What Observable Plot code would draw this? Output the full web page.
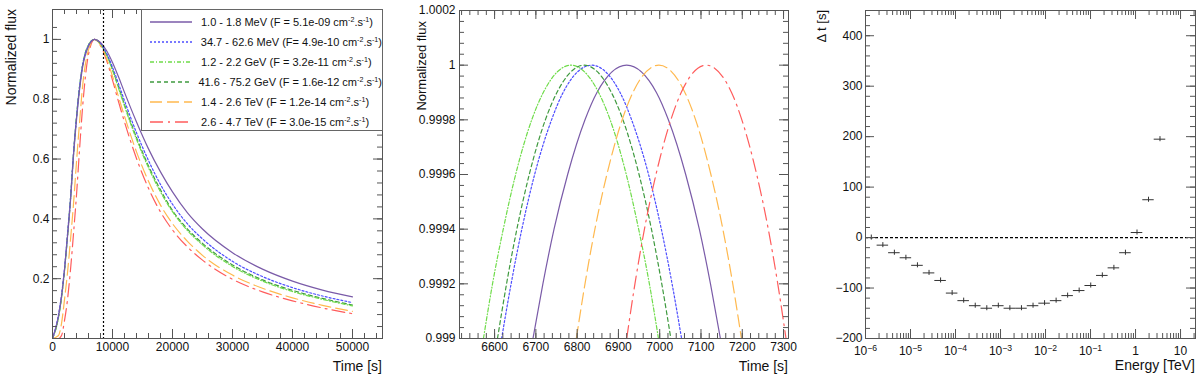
<!DOCTYPE html>
<html><head><meta charset="utf-8">
<script src="https://cdn.jsdelivr.net/npm/d3@7"></script>
<script src="https://cdn.jsdelivr.net/npm/@observablehq/plot@0.6"></script>
<style>
body{margin:0;background:#fff;}
#wrap{position:relative;width:1200px;height:379px;font-family:"Liberation Sans",Arial,Helvetica,sans-serif;color:#111;overflow:hidden;}
.panel{position:absolute;top:0;}
#legend{position:absolute;left:141px;top:9px;width:242px;height:122px;border:1px solid #666;background:#fff;box-sizing:border-box;font-size:11px;padding-top:2px;}
#legend .row{display:flex;align-items:center;height:20px;white-space:nowrap;}
#legend svg{margin-left:8px;margin-right:9px;}
#legend sup{font-size:0.65em;vertical-align:0.5em;line-height:0;}
</style></head><body><div id="wrap"></div>
<script>
// ---------- Panel 1: light curves ----------
const bandLabels = ["1.0 - 1.8 MeV","34.7 - 62.6 MeV","1.2 - 2.2 GeV","41.6 - 75.2 GeV","1.4 - 2.6 TeV","2.6 - 4.7 TeV"];
const fluxLabels = ["F = 5.1e-09","F= 4.9e-10","F = 3.2e-11","F = 1.6e-12","F = 1.2e-14","F = 3.0e-15"];

const t1 = [0,1000,1500,2000,2500,3000,3500,4000,4500,5000,6000,7000,8000,9000,10000,11000,12000,14000,16000,18000,20000,22500,25000,30000,35000,40000,45000,50000];
const fPurple = [0,0.075,0.14,0.23,0.34,0.46,0.61,0.73,0.83,0.905,0.977,1.0,0.990,0.963,0.923,0.875,0.823,0.724,0.634,0.557,0.49,0.42,0.366,0.287,0.232,0.192,0.162,0.139];
const fBlue   = [0,0.08,0.145,0.235,0.35,0.47,0.62,0.74,0.84,0.912,0.98,1.0,0.987,0.954,0.907,0.852,0.795,0.688,0.595,0.515,0.449,0.383,0.333,0.258,0.207,0.170,0.142,0.120];
const fLGreen = [0,0.07,0.135,0.225,0.34,0.465,0.615,0.74,0.84,0.912,0.982,1.0,0.985,0.949,0.897,0.837,0.777,0.666,0.571,0.490,0.424,0.361,0.313,0.241,0.192,0.157,0.131,0.109];
const fDGreen = [0,0.072,0.138,0.228,0.343,0.467,0.617,0.741,0.841,0.912,0.981,1.0,0.986,0.950,0.900,0.841,0.782,0.672,0.577,0.497,0.428,0.366,0.318,0.246,0.196,0.161,0.134,0.112];
const fOrange = [0,0.01,0.05,0.13,0.22,0.33,0.45,0.59,0.72,0.84,0.965,1.0,0.981,0.937,0.877,0.808,0.743,0.624,0.526,0.446,0.384,0.325,0.278,0.212,0.168,0.136,0.111,0.091];
const fRed    = [0,0,0.01,0.06,0.13,0.23,0.35,0.48,0.63,0.77,0.95,1.0,0.979,0.931,0.864,0.792,0.724,0.602,0.502,0.423,0.363,0.306,0.262,0.198,0.156,0.126,0.102,0.083];
const tMarker = 8500;

const x1Labels = [0,10000,20000,30000,40000,50000];
const y1Labels = [0.2,0.4,0.6,0.8,1];

// ---------- Panel 2: zoom on the peaks ----------
const f2 = [0.999,0.9992,0.9994,0.9996,0.9998,0.9999,1,0.9999,0.9998,0.9996,0.9994,0.9992,0.999];
const t2Purple = [6693,6717,6744,6777,6819,6848,6920,6992,7021,7063,7096,7123,7147];
const t2Blue   = [6617,6640,6666,6697,6738,6766,6835,6904,6932,6973,7004,7030,7053];
const t2LGreen = [6573,6595,6621,6651,6690,6718,6785,6852,6880,6919,6949,6975,6997];
const t2DGreen = [6607,6629,6654,6684,6723,6751,6817,6883,6911,6950,6980,7005,7027];
const t2Orange = [6798,6819,6843,6872,6909,6935,6998,7061,7087,7124,7153,7177,7198];
const t2Red    = [6920,6940,6963,6991,7027,7052,7113,7174,7199,7235,7263,7286,7306];

const x2Labels = [6600,6700,6800,6900,7000,7100,7200,7300];
const y2Labels = [0.999,0.9992,0.9994,0.9996,0.9998,1,1.0002];

// ---------- Panel 3: time lag vs energy ----------
const eEdges = [1.0e-6,1.81e-6,3.26e-6,5.89e-6,1.06e-5,1.92e-5,3.47e-5,6.26e-5,1.13e-4,2.04e-4,3.69e-4,6.66e-4,1.20e-3,2.17e-3,3.93e-3,7.09e-3,1.28e-2,2.31e-2,4.16e-2,7.52e-2,1.36e-1,2.46e-1,4.44e-1,8.02e-1,1.45,2.6,4.7];
const dt = [0,-15,-30,-40,-55,-70,-85,-110,-125,-135,-140,-135,-140,-140,-135,-130,-125,-115,-105,-95,-75,-60,-30,10,75,195];
const dtErr = [5,5,5,5,5,5,5,5,5,5,5,5,5,5,5,5,5,5,5,5,5,5,5,5,5,5];

const x3Labels = [1e-6,1e-5,1e-4,1e-3,1e-2,1e-1,1,10];
const y3Labels = [-200,-100,0,100,200,300,400];

// ---------- styles ----------
const styles = [
  {color:"#7a5ba8", dash:null},
  {color:"#4d4dff", dash:"2,2"},
  {color:"#6fdc4a", dash:"4,2,1,2"},
  {color:"#3f9a3f", dash:"4,3"},
  {color:"#ffb94f", dash:"12,5"},
  {color:"#ff5c5c", dash:"13,5,2,5"}
];
const W = 400, H = 379;
const frameColor = "#555";
const baseStyle = {fontFamily:'"Liberation Sans", Arial, Helvetica, sans-serif', fontSize:"12px", color:"#111", background:"transparent", overflow:"visible"};

function boxTicks(xMaj, xMin, yMaj, yMin, pw, ph) {
  const c = frameColor;
  return [
    Plot.tickX(xMin, {x: d => d, insetTop: ph - 5, stroke: c}),
    Plot.tickX(xMin, {x: d => d, insetBottom: ph - 5, stroke: c}),
    Plot.tickX(xMaj, {x: d => d, insetTop: ph - 9, stroke: c}),
    Plot.tickX(xMaj, {x: d => d, insetBottom: ph - 9, stroke: c}),
    Plot.tickY(yMin, {y: d => d, insetRight: pw - 5, stroke: c}),
    Plot.tickY(yMin, {y: d => d, insetLeft: pw - 5, stroke: c}),
    Plot.tickY(yMaj, {y: d => d, insetRight: pw - 9, stroke: c}),
    Plot.tickY(yMaj, {y: d => d, insetLeft: pw - 9, stroke: c}),
    Plot.frame({stroke: c})
  ];
}
function addTitle(svg, text, x, y, rotate, size) {
  d3.select(svg).append("text")
    .attr("transform", `translate(${x},${y})` + (rotate ? ` rotate(${rotate})` : ""))
    .attr("text-anchor", "end")
    .attr("font-size", size)
    .attr("fill", "#111")
    .text(text);
}
const wrap = document.getElementById("wrap");
function place(svg, left) {
  svg.classList.add("panel");
  svg.style.left = left + "px";
  wrap.appendChild(svg);
}

// ===== Panel 1 =====
{
  const m = {l:52, r:18, t:9, b:41};
  const pw = W - m.l - m.r, ph = H - m.t - m.b;
  const xDom = [0, 55000], yDom = [0, 1.1];
  const flux1 = [fPurple, fBlue, fLGreen, fDGreen, fOrange, fRed];
  const lines = flux1.map((arr, si) => Plot.line(t1.map((t, i) => ({t, f: arr[i]})), {
    x: "t", y: "f", stroke: styles[si].color, strokeWidth: 1.2,
    strokeDasharray: styles[si].dash, curve: "monotone-x", clip: true
  }));
  const xMin = d3.range(0, 55001, 2000), yMin = d3.range(0, 27).map(i => +(i * 0.04).toFixed(2));
  const svg = Plot.plot({
    width: W, height: H, marginLeft: m.l, marginRight: m.r, marginTop: m.t, marginBottom: m.b,
    style: baseStyle,
    x: {domain: xDom, label: null},
    y: {domain: yDom, label: null},
    marks: [
      ...lines.reverse(),
      Plot.ruleX([tMarker], {stroke: "#000", strokeDasharray: "2,2", strokeWidth: 1.2}),
      ...boxTicks(x1Labels, xMin, y1Labels, yMin, pw, ph),
      Plot.axisX(x1Labels, {tickSize: 0, tickPadding: 4, tickFormat: d => String(d), label: null, fontSize: 12}),
      Plot.axisY(y1Labels, {tickSize: 0, tickPadding: 3, tickFormat: d => String(d), label: null, fontSize: 12})
    ]
  });
  place(svg, 0);
  addTitle(svg, "Normalized flux", 16, 9, -90, 14);
  addTitle(svg, "Time [s]", 382, 371, 0, 14);

  const leg = d3.select(wrap).append("div").attr("id", "legend");
  bandLabels.forEach((b, i) => {
    const row = leg.append("div").attr("class", "row");
    const s = row.append("svg").attr("width", 42).attr("height", 6);
    s.append("line").attr("x1", 0).attr("x2", 42).attr("y1", 3).attr("y2", 3)
      .attr("stroke", styles[i].color).attr("stroke-width", 1.3)
      .attr("stroke-dasharray", styles[i].dash);
    row.append("span").html(`${b} (${fluxLabels[i]} cm<sup>-2</sup>.s<sup>-1</sup>)`);
  });
}

// ===== Panel 2 =====
{
  const m = {l:59, r:12, t:10, b:41};
  const pw = W - m.l - m.r, ph = H - m.t - m.b;
  const xDom = [6515, 7312], yDom = [0.999, 1.0002];
  const times2 = [t2Purple, t2Blue, t2LGreen, t2DGreen, t2Orange, t2Red];
  const lines = times2.map((arr, si) => Plot.line(arr.map((t, i) => ({t, f: f2[i]})), {
    x: "t", y: "f", stroke: styles[si].color, strokeWidth: 1.2,
    strokeDasharray: styles[si].dash, curve: "monotone-x", clip: true
  }));
  const xMin = d3.range(6520, 7312, 20);
  const yMin = d3.range(0, 31).map(i => +(0.999 + i * 0.00004).toFixed(6));
  const svg = Plot.plot({
    width: W, height: H, marginLeft: m.l, marginRight: m.r, marginTop: m.t, marginBottom: m.b,
    style: baseStyle,
    x: {domain: xDom, label: null},
    y: {domain: yDom, label: null},
    marks: [
      ...lines,
      ...boxTicks(x2Labels, xMin, y2Labels, yMin, pw, ph),
      Plot.axisX(x2Labels, {tickSize: 0, tickPadding: 4, tickFormat: d => String(d), label: null, fontSize: 12}),
      Plot.axisY(y2Labels, {tickSize: 0, tickPadding: 4, tickFormat: d => String(d), label: null, fontSize: 12})
    ]
  });
  place(svg, 400);
  addTitle(svg, "Normalized flux", 26, 21, -90, 13);
  addTitle(svg, "Time [s]", 388, 371, 0, 14);
}

// ===== Panel 3 =====
{
  const m = {l:65, r:5, t:10, b:41};
  const pw = W - m.l - m.r, ph = H - m.t - m.b;
  const xDom = [1e-6, 21.5], yDom = [-200, 450];
  const pts = dt.map((v, i) => ({lo: eEdges[i], hi: eEdges[i + 1], c: Math.sqrt(eEdges[i] * eEdges[i + 1]), v, e: dtErr[i]}));
  const xMin = [];
  x3Labels.forEach(d => { for (let k = 2; k <= 9; k++) { const v = k * d; if (v <= xDom[1]) xMin.push(v); } });
  const yMin = d3.range(-200, 451, 20);
  const fmtX = d => d >= 1 ? String(d) : "10^\u2212" + Math.round(-Math.log10(d));
  const svg = Plot.plot({
    width: W, height: H, marginLeft: m.l, marginRight: m.r, marginTop: m.t, marginBottom: m.b,
    style: baseStyle,
    x: {type: "log", domain: xDom, label: null},
    y: {domain: yDom, label: null},
    marks: [
      Plot.ruleY([0], {stroke: "#000", strokeDasharray: "3,2", strokeWidth: 1.2}),
      Plot.ruleY(pts, {x1: "lo", x2: "hi", y: "v", stroke: "#333", strokeWidth: 1}),
      Plot.ruleX(pts, {x: "c", y1: d => d.v - d.e, y2: d => d.v + d.e, stroke: "#333", strokeWidth: 1}),
      ...boxTicks(x3Labels, xMin, y3Labels, yMin, pw, ph),
      Plot.axisX(x3Labels, {tickSize: 0, tickPadding: 8, tickFormat: fmtX, label: null, fontSize: 12}),
      Plot.axisY(y3Labels, {tickSize: 0, tickPadding: 3, tickFormat: d => d < 0 ? "\u2212" + Math.abs(d) : String(d), label: null, fontSize: 12})
    ]
  });
  place(svg, 800);
  d3.select(svg).selectAll('g[aria-label="x-axis tick label"] text').each(function () {
    const s = this.textContent;
    if (!s.includes("^")) return;
    const [b, e] = s.split("^");
    const t = d3.select(this);
    t.text(b);
    t.append("tspan").attr("dy", "-0.45em").attr("font-size", "0.72em").text(e);
  });
  addTitle(svg, "\u0394 t [s]", 26, 10, -90, 13);
  addTitle(svg, "Energy [TeV]", 395, 370, 0, 14);
}
</script></body></html>
